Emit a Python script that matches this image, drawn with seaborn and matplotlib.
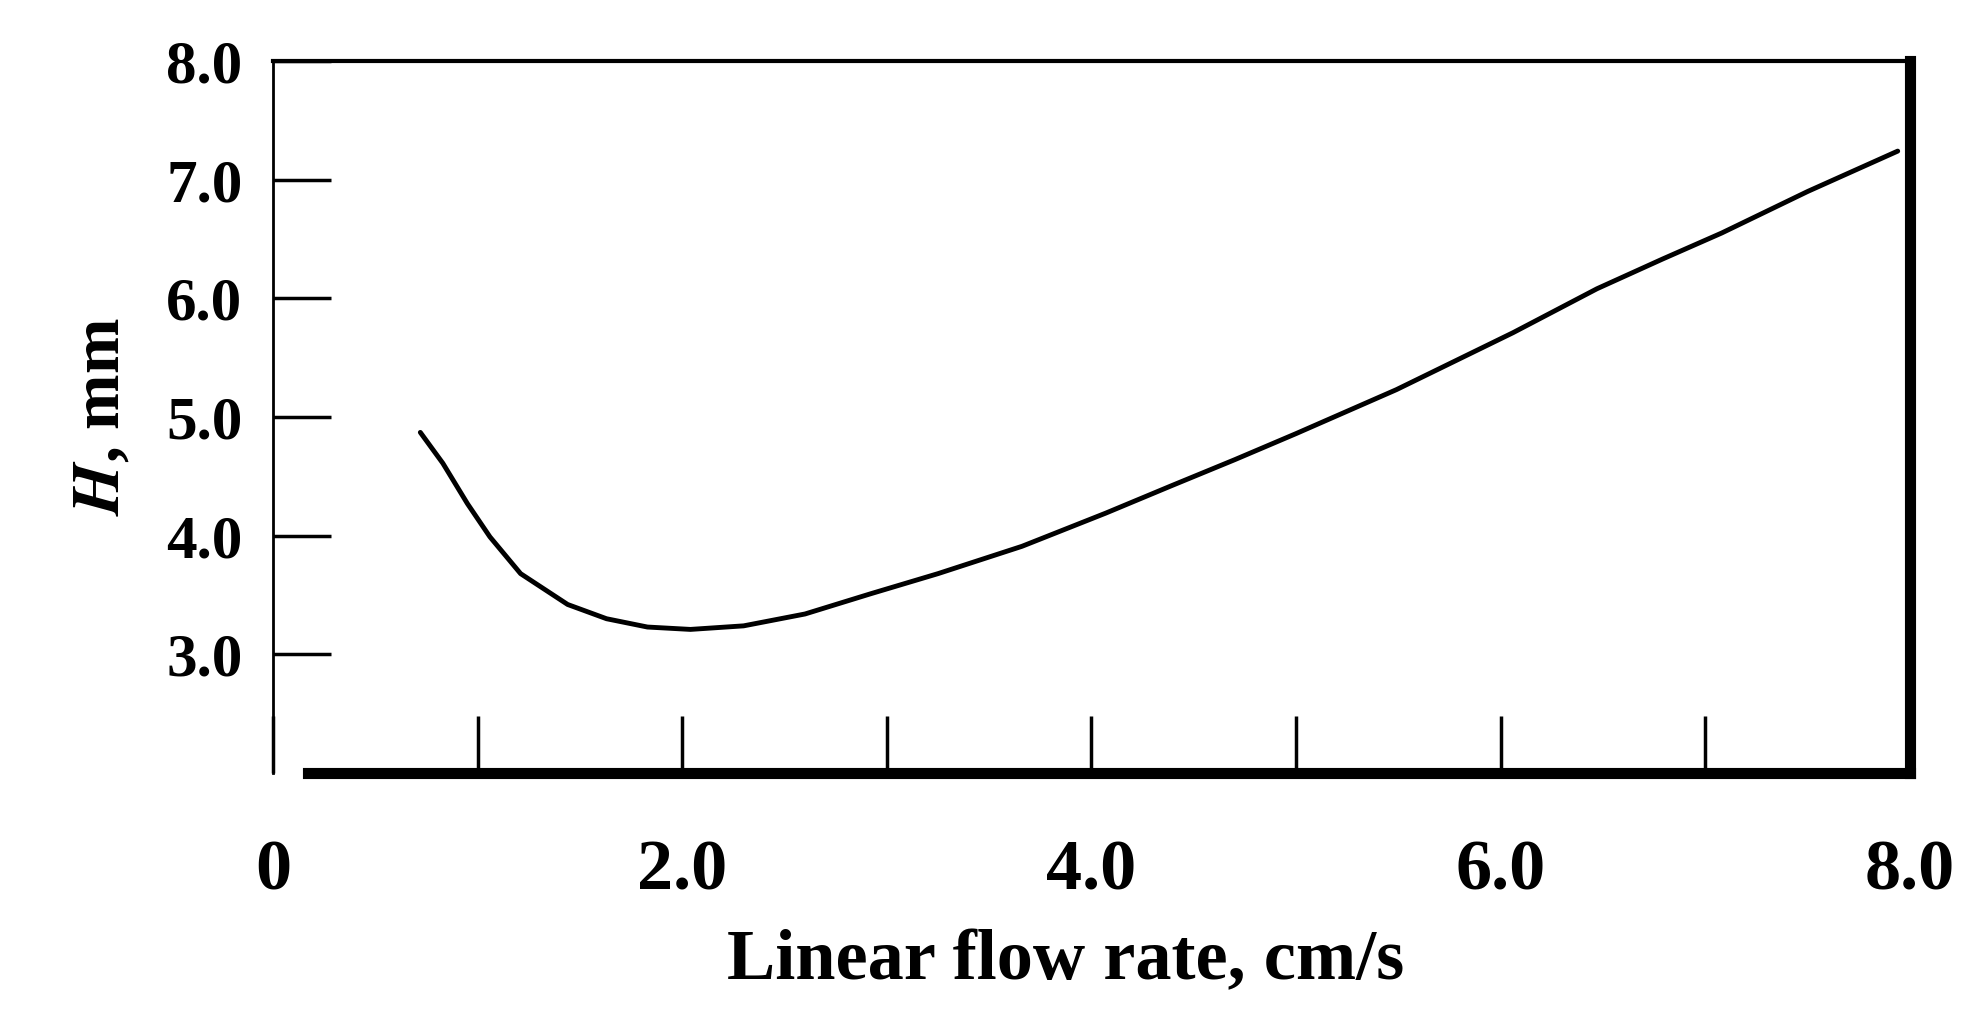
import matplotlib
matplotlib.use("Agg")
import matplotlib.pyplot as plt
import seaborn as sns

# values
flow_rate = [0.72, 0.83, 0.95, 1.06, 1.21, 1.44, 1.63, 1.83, 2.04, 2.30, 2.60, 2.92, 3.25,
             3.66, 4.07, 4.39, 4.70, 5.00, 5.49, 6.06, 6.47, 6.79, 7.08, 7.50, 7.94]
plate_height = [4.87, 4.61, 4.27, 3.99, 3.68, 3.42, 3.30, 3.23, 3.21, 3.24, 3.34, 3.51, 3.68,
                3.91, 4.19, 4.42, 4.64, 4.86, 5.23, 5.71, 6.08, 6.33, 6.55, 6.90, 7.24]

x_ticks = [0, 1, 2, 3, 4, 5, 6, 7, 8]
x_tick_labels = ["0", "", "2.0", "", "4.0", "", "6.0", "", "8.0"]
y_ticks = [3, 4, 5, 6, 7, 8]
y_tick_labels = ["3.0", "4.0", "5.0", "6.0", "7.0", "8.0"]

sns.set_style("white")
plt.rcParams['font.family'] = ['Liberation Serif', 'DejaVu Serif']
plt.rcParams['font.weight'] = 'bold'
plt.rcParams['mathtext.fontset'] = 'stix'
plt.rcParams['text.color'] = 'black'
plt.rcParams['axes.labelcolor'] = 'black'

fig = plt.figure(figsize=(19.84, 10.15), dpi=100)
ax = fig.add_axes([0.1376, 0.2384, 0.8251, 0.7016])

sns.lineplot(x=flow_rate, y=plate_height, color='black', linewidth=3.5, ax=ax)

ax.set_xlim(0, 8)
ax.set_ylim(2.0, 8.0)

ax.set_xticks(x_ticks)
ax.set_xticklabels(x_tick_labels, fontsize=52, fontweight='bold')
ax.set_yticks(y_ticks)
ax.set_yticklabels(y_tick_labels, fontsize=44, fontweight='bold')

ax.tick_params(axis='x', bottom=True, direction='in', length=41, width=2.5, pad=48,
               colors='black')
ax.tick_params(axis='y', left=True, direction='in', length=42, width=2.5, pad=22,
               colors='black')

for side in ['left', 'top', 'right', 'bottom']:
    ax.spines[side].set_color('black')
ax.spines['left'].set_linewidth(2)
ax.spines['top'].set_linewidth(3)
ax.spines['right'].set_linewidth(8)
ax.spines['bottom'].set_linewidth(8)
ax.spines['bottom'].set_bounds(0.17, 8.0)

ax.set_xlabel("Linear flow rate, cm/s", fontsize=52, fontweight='bold', color='black')
ax.xaxis.set_label_coords(0.484, -0.22)
ax.set_ylabel(r"$\mathbfit{H}$, mm", fontsize=48, fontweight='bold', color='black',
              labelpad=24)

fig.savefig("out.png", dpi=100)
